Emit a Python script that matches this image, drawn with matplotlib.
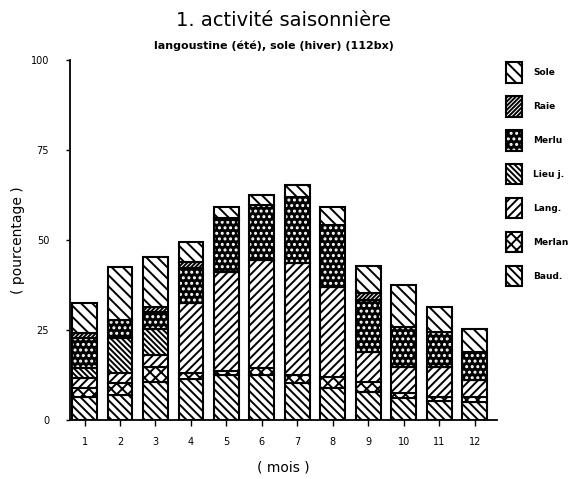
import matplotlib
matplotlib.use("Agg")
import matplotlib.pyplot as plt
from matplotlib.patches import Patch
from matplotlib.legend_handler import HandlerTuple
import numpy as np

plt.rcParams['font.family'] = ['DejaVu Sans']
plt.rcParams['hatch.linewidth'] = 1.4

months = np.arange(1, 13)
month_labels = [str(m) for m in months]

# Species shares (%) per month, stacked from bottom to top
baud   = [6.5, 6.9, 10.6, 11.4, 12.5, 12.5, 10.2, 8.8, 7.9, 6.0, 5.4, 5.1]
merlan = [2.3, 3.3, 4.2, 1.6, 1.2, 1.9, 2.3, 3.2, 2.7, 1.4, 1.1, 1.2]
lang   = [2.8, 2.8, 3.3, 19.4, 27.5, 30.0, 31.0, 25.0, 8.4, 7.4, 8.3, 4.8]
lieu   = [2.8, 9.7, 7.2, 0, 0, 0, 0, 0, 0, 0, 0, 0]
merlu  = [8.5, 5.1, 4.8, 9.7, 14.3, 15.3, 18.5, 17.2, 14.3, 11.1, 9.7, 7.9]
raie   = [1.2, 0, 1.4, 1.9, 0.5, 0, 0, 0, 1.9, 0, 0, 0]
sole   = [8.3, 14.8, 13.9, 5.5, 3.3, 2.8, 3.3, 5.1, 7.6, 11.6, 7.0, 6.2]

series = [
    ("Baud.",   baud,   dict(hatch='\\' * 4, facecolor='white', edgecolor='black')),
    ("Merlan",  merlan, dict(hatch='xxx', facecolor='white', edgecolor='black')),
    ("Lang.",   lang,   dict(hatch='/' * 4, facecolor='white', edgecolor='black')),
    ("Lieu j.", lieu,   dict(hatch='\\' * 6, facecolor='white', edgecolor='black')),
    ("Merlu",   merlu,  dict(hatch='...', facecolor='black', edgecolor='white')),
    ("Raie",    raie,   dict(hatch='/' * 8, facecolor='white', edgecolor='black')),
    ("Sole",    sole,   dict(hatch='\\' * 3, facecolor='white', edgecolor='black')),
]

fig = plt.figure(figsize=(5.70, 4.79), dpi=100)
ax = fig.add_axes([0.1228, 0.1232, 0.7492, 0.7515])

width = 0.7
bottom = np.zeros(len(months))
handles = []
for name, vals, style in series:
    vals = np.array(vals, dtype=float)
    ax.bar(months, vals, width, bottom=bottom, linewidth=0, **style)
    ax.bar(months, vals, width, bottom=bottom, facecolor='none',
           edgecolor='black', linewidth=1.5)
    fill = Patch(linewidth=0, **style)
    outline = Patch(facecolor='none', edgecolor='black', linewidth=1.5)
    handles.append(((fill, outline), name))
    bottom += vals

ax.set_xlim(0.59, 12.63)
ax.set_ylim(0, 100)
ax.set_xticks(months)
ax.set_xticklabels(month_labels, fontsize=7)
ax.set_yticks([0, 25, 50, 75, 100])
ax.set_yticklabels(['0', '25', '50', '75', '100'], fontsize=7)
ax.tick_params(axis='x', direction='out', length=4, width=1, pad=8)
ax.tick_params(axis='y', direction='out', length=3, width=1, pad=12)
for s in ('top', 'right'):
    ax.spines[s].set_visible(False)
ax.spines['left'].set_linewidth(1.3)
ax.spines['bottom'].set_linewidth(1.3)

ax.set_xlabel("( mois )", fontsize=10, labelpad=10)
ax.set_ylabel("( pourcentage )", fontsize=10, labelpad=4)

fig.text(0.497, 0.958, "1. activité saisonnière", ha='center', va='center',
         fontsize=14)
fig.text(0.48, 0.905, "langoustine (été), sole (hiver) (112bx)", ha='center',
         va='center', fontsize=8, fontweight='bold')

h = [hh for hh, _ in handles][::-1]
l = [ll for _, ll in handles][::-1]
fig.legend(h, l, loc='upper left', bbox_to_anchor=(0.874, 0.887),
           frameon=False, prop={'size': 6.5, 'weight': 'bold'},
           handlelength=1.7, handleheight=3.1,
           labelspacing=1.5, handletextpad=1.3,
           handler_map={tuple: HandlerTuple(ndivide=1, pad=0)})

fig.savefig("out.png", dpi=100)
